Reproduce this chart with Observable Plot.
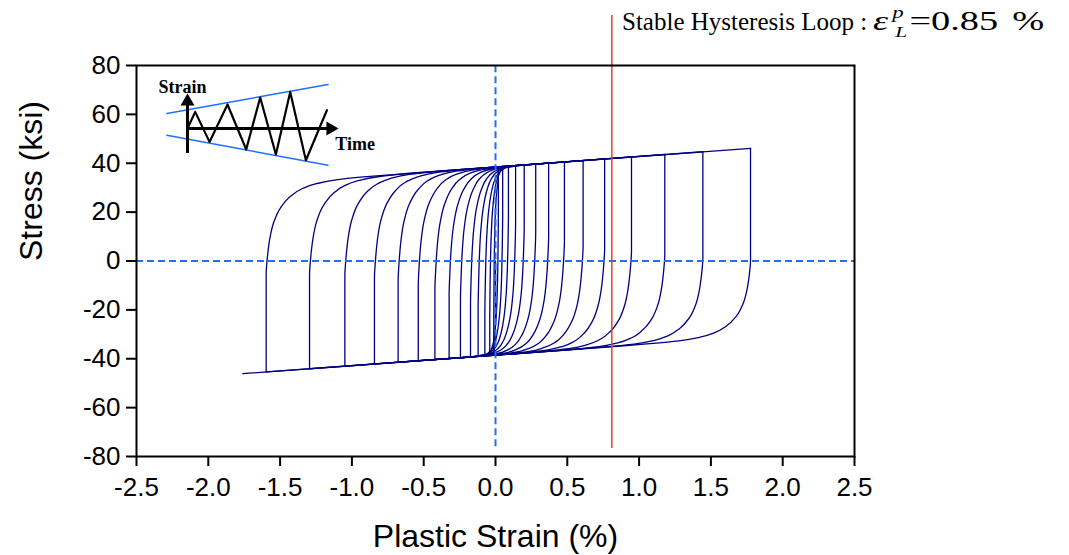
<!DOCTYPE html>
<html><head><meta charset="utf-8">
<script src="https://cdn.jsdelivr.net/npm/d3@7"></script>
<script src="https://cdn.jsdelivr.net/npm/@observablehq/plot@0.6"></script>
<style>
body{margin:0;background:#fff;}
#wrap{position:relative;width:1069px;height:555px;overflow:hidden;}
#title{position:absolute;left:622px;top:8px;font-family:"Liberation Serif","Times New Roman",serif;font-size:25px;line-height:1;white-space:nowrap;color:#000;z-index:3;}
#eq{display:inline-block;font-size:27px;transform:scaleX(1.42);transform-origin:0 50%;}
#eq .scr{display:inline-block;position:relative;width:15px;height:0;}
#eq .scr i{position:absolute;line-height:1;}
#eq .sp{font-size:16px;left:3px;top:-25px;}
#eq .sb{font-size:15px;left:5px;top:-5px;}
</style></head><body>
<div id="wrap">
<div id="title">Stable Hysteresis Loop : <span id="eq"><i>ε</i><span class="scr"><i class="sp">p</i><i class="sb">L</i></span><span>=</span><span>0.85</span><span style="margin-left:10px">%</span></span></div>
</div>
<script>
// ---- axis ticks ----
const xTicks = [-2.5, -2.0, -1.5, -1.0, -0.5, 0.0, 0.5, 1.0, 1.5, 2.0, 2.5];
const yTicks = [-80, -60, -40, -20, 0, 20, 40, 60, 80];

// ---- reversal points of the hysteresis history (plastic strain %, stress ksi) ----
const leftStrain  = [-0.012, -0.040, -0.074, -0.121, -0.174, -0.244, -0.323, -0.422, -0.538, -0.678, -0.843, -1.049, -1.295, -1.597];
const leftStress  = [-38.6, -38.7, -38.8, -39.0, -39.3, -39.6, -39.9, -40.3, -40.8, -41.4, -42.1, -43.0, -44.1, -45.4];
const rightStrain = [0.020, 0.050, 0.090, 0.140, 0.200, 0.280, 0.370, 0.480, 0.610, 0.760, 0.947, 1.179, 1.444, 1.776];
const rightStress = [38.6, 38.7, 38.9, 39.1, 39.4, 39.7, 40.1, 40.6, 41.1, 41.8, 42.6, 43.6, 44.7, 46.1];
const startPoint  = [0, 0];
const endPoint    = [-1.76, -46.1];

// stress where the elastic (vertical) part of each branch ends
const upperVertEnd = [-25, -24, -22, -20, -18, -16, -14, -12, -10, -8, -7, -6, -5.5, -5];
const lowerVertEnd = [-20, 22, 20, 18, 16, 14, 12, 10, 8, 6, 5, 4, 2.5, 1, 0];
// width (strain %) of the knee of each branch
const upperKneeWidth = [0.12, 0.20, 0.28, 0.36, 0.44, 0.52, 0.60, 0.68, 0.75, 0.81, 0.86, 0.90, 0.95, 1.00];
const lowerKneeWidth = [0.05, 0.14, 0.22, 0.30, 0.38, 0.46, 0.54, 0.62, 0.70, 0.77, 0.83, 0.88, 0.92, 0.96, 1.00];
// knee shape read from the largest loop (fraction of knee width -> remaining gap to envelope)
const kneeStep  = [0, 0.005, 0.012, 0.025, 0.05, 0.10, 0.17, 0.25, 0.35, 0.50, 0.70, 1.00];
const kneeGap   = [1, 0.88, 0.77, 0.62, 0.45, 0.28, 0.16, 0.085, 0.04, 0.012, 0.003, 0];
// saturated envelopes (upper / lower)
const envStrain    = [-1.76, 1.776];
const topEnvStress = [30.9, 46.1];
const botEnvStress = [-46.1, -30.9];

// reference lines
const stableStrain = 0.81;
const stableSpan   = [-76.7, 100.5];
const zeroSpan     = [-76, 80];

// ---- inset schematic (time, strain) ----
const insetTime   = [0, 7.7, 22, 40, 58.7, 72.7, 88.4, 102.7, 118.4, 139.4];
const insetStrain = [0, 16.6, -13.4, 24, -21, 31, -26, 36.6, -31.7, 18.3];
const boundTime   = [-20.6, 140.5];
const upperBound  = [15, 44];
const lowerBound  = [-6.7, -36.7];
const strainAxis  = [-25, 25];
const timeAxis    = [0, 140];
const strainArrow = [0, 27];
const timeArrow   = [143, 0];

// ---- build branches ----
const topEnv = d3.scaleLinear().domain(envStrain).range(topEnvStress);
const botEnv = d3.scaleLinear().domain(envStrain).range(botEnvStress);
const reversals = [startPoint];
leftStrain.forEach((x, k) => { reversals.push([x, leftStress[k]]); reversals.push([rightStrain[k], rightStress[k]]); });
reversals.push(endPoint);

const loopPoints = [];
let up = 0, down = 0;
for (let b = 0; b < reversals.length - 1; b++) {
  const [x0, s0] = reversals[b], [x1, s1] = reversals[b + 1];
  const rising = x1 > x0;
  const env = rising ? topEnv : botEnv;
  const sv = rising ? upperVertEnd[up] : lowerVertEnd[down];
  const w = rising ? upperKneeWidth[up] : lowerKneeWidth[down];
  if (rising) up++; else down++;
  const dir = rising ? 1 : -1;
  const range = Math.abs(x1 - x0);
  const r = env(x0) - sv;
  const pts = [[x0, s0], [x0, sv]];
  for (let j = 1; j < kneeStep.length; j++) {
    const d = kneeStep[j] * w;
    if (d >= range - 1e-9) break;
    const x = x0 + dir * d;
    pts.push([x, env(x) - r * kneeGap[j]]);
  }
  pts.push([x1, s1]);
  if (!rising) pts.reverse();
  pts.forEach(([x, y]) => loopPoints.push({b, x, y}));
}

const blue = "#1f6fff";
const main = Plot.plot({
  width: 1069, height: 555,
  marginLeft: 136, marginRight: 215, marginTop: 65, marginBottom: 99,
  x: {domain: [-2.5, 2.5]},
  y: {domain: [-80, 80]},
  style: {fontFamily: '"Liberation Sans", Arial, sans-serif', fontSize: "26px", color: "#000", background: "transparent", overflow: "visible"},
  marks: [
    Plot.line(loopPoints, {x: "x", y: "y", z: "b", stroke: "#000080", strokeWidth: 1.3, curve: "monotone-y"}),
    Plot.ruleY([0], {stroke: blue, strokeWidth: 2, strokeDasharray: "7,4"}),
    Plot.ruleX([0], {y1: zeroSpan[0], y2: zeroSpan[1], stroke: blue, strokeWidth: 2, strokeDasharray: "7,4"}),
    Plot.ruleX([stableStrain], {y1: stableSpan[0], y2: stableSpan[1], stroke: "#e8432e", strokeWidth: 1.5}),
    Plot.frame({stroke: "#000", strokeWidth: 2}),
    Plot.axisX({ticks: xTicks, tickSize: 10, tickPadding: 11, strokeWidth: 2, tickFormat: d => d.toFixed(1), label: null, fontSize: 26}),
    Plot.axisY({ticks: yTicks, tickSize: 10, tickPadding: 6, strokeWidth: 2, tickFormat: d => String(d), label: null, fontSize: 26}),
    Plot.text(["Plastic Strain (%)"], {frameAnchor: "bottom", dy: 90, lineAnchor: "bottom", fontSize: 32}),
    Plot.text(["Stress (ksi)"], {frameAnchor: "left", dx: -95, rotate: -90, lineAnchor: "bottom", fontSize: 32})
  ]
});
main.style.position = "absolute"; main.style.left = "0px"; main.style.top = "0px";
document.getElementById("wrap").appendChild(main);

const zig = insetTime.map((t, i) => ({t, s: insetStrain[i]}));
const bounds = [
  ...boundTime.map((t, i) => ({t, s: upperBound[i], k: "u"})),
  ...boundTime.map((t, i) => ({t, s: lowerBound[i], k: "l"}))
];
const serif = '"Liberation Serif", "Times New Roman", serif';
const inset = Plot.plot({
  width: 230, height: 100, margin: 0,
  x: {domain: [-35, 195], axis: null},
  y: {domain: [-45, 55], axis: null},
  style: {background: "transparent", overflow: "visible"},
  marks: [
    Plot.line(bounds, {x: "t", y: "s", z: "k", stroke: blue, strokeWidth: 1.5}),
    Plot.ruleX([0], {y1: strainAxis[0], y2: strainAxis[1], stroke: "#000", strokeWidth: 3}),
    Plot.ruleY([0], {x1: timeAxis[0], x2: timeAxis[1], stroke: "#000", strokeWidth: 3}),
    Plot.dot([strainArrow], {x: d => d[0], y: d => d[1], symbol: "triangle", r: 5.2, fill: "#000", stroke: "none"}),
    Plot.dot([timeArrow], {x: d => d[0], y: d => d[1], symbol: "triangle", r: 5.2, fill: "#000", stroke: "none", rotate: 90}),
    Plot.line(zig, {x: "t", y: "s", stroke: "#000", strokeWidth: 2.2}),
    Plot.text(["Strain"], {x: -29, y: 35.3, textAnchor: "start", lineAnchor: "bottom", fontFamily: serif, fontWeight: "bold", fontSize: 18}),
    Plot.text(["Time"], {x: 147.7, y: -21, textAnchor: "start", lineAnchor: "bottom", fontFamily: serif, fontWeight: "bold", fontSize: 18})
  ]
});
inset.style.position = "absolute"; inset.style.left = "152.3px"; inset.style.top = "73.3px";
document.getElementById("wrap").appendChild(inset);
</script>
</body></html>
